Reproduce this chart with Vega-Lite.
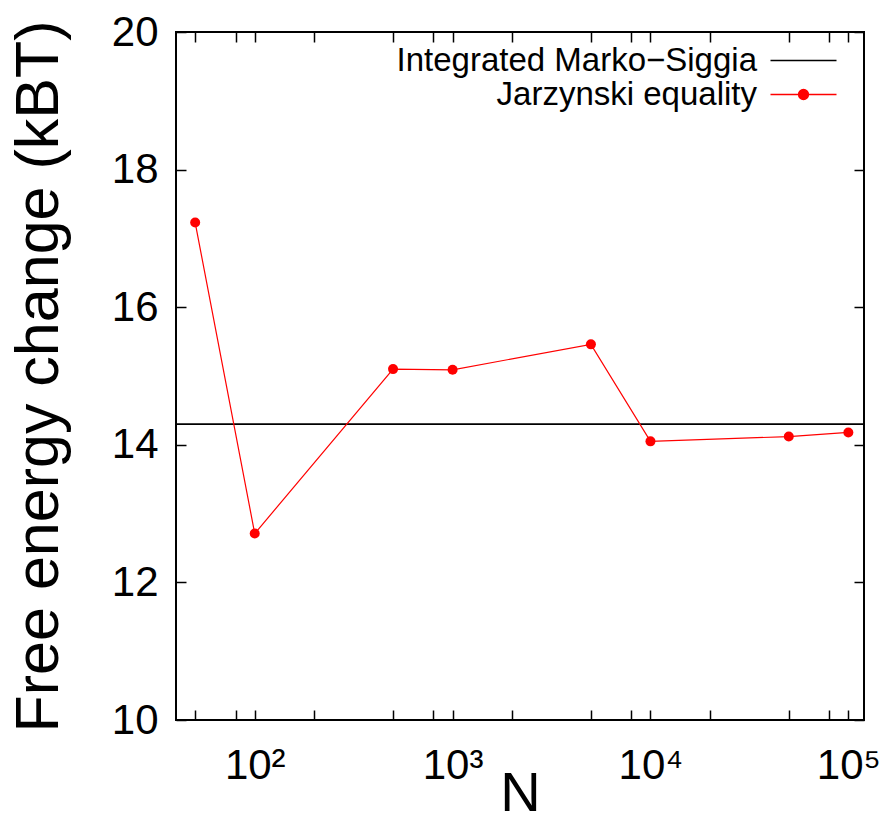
{
  "$schema": "https://vega.github.io/schema/vega-lite/v6.json",
  "autosize": {"type": "none"},
  "padding": {"left": 176, "top": 32, "right": 25, "bottom": 102},
  "width": 688,
  "height": 688,
  "background": "white",
  "config": {
    "view": {"stroke": "black", "strokeWidth": 2},
    "font": "Liberation Sans"
  },
  "datasets": {
    "ms": [{"series": "Integrated Marko−Siggia", "F": 14.30}],
    "jar": [
      {"series": "Jarzynski equality", "N": 50, "F": 17.23},
      {"series": "Jarzynski equality", "N": 100, "F": 12.71},
      {"series": "Jarzynski equality", "N": 500, "F": 15.10},
      {"series": "Jarzynski equality", "N": 1000, "F": 15.09},
      {"series": "Jarzynski equality", "N": 5000, "F": 15.46},
      {"series": "Jarzynski equality", "N": 10000, "F": 14.05},
      {"series": "Jarzynski equality", "N": 50000, "F": 14.12},
      {"series": "Jarzynski equality", "N": 100000, "F": 14.18}
    ]
  },
  "resolve": {"scale": {"x": "shared", "y": "shared", "color": "shared"}, "axis": {"x": "independent", "y": "independent"}},
  "layer": [
    {
      "data": {"name": "ms"},
      "mark": {"type": "rule", "strokeWidth": 1.8},
      "encoding": {
        "y": {"field": "F", "type": "quantitative", "scale": {"domain": [10, 20], "nice": false, "zero": false}, "axis": null},
        "color": {
          "field": "series", "type": "nominal",
          "scale": {"domain": ["Integrated Marko−Siggia", "Jarzynski equality"], "range": ["black", "red"]},
          "legend": {
            "orient": "none", "legendX": 611, "legendY": 12, "title": null, "padding": 0,
            "labelAlign": "right", "labelOffset": -63, "labelFontSize": 33, "labelFont": "Liberation Sans", "labelColor": "black", "labelLimit": 0,
            "symbolSize": 484, "rowPadding": -1,
            "encode": {"symbols": {"update": {
              "shape": {"signal": "datum.value === 'Jarzynski equality' ? 'M-3,0H3M-0.45,0A0.45,0.45,0,1,0,0.45,0A0.45,0.45,0,1,0,-0.45,0Z' : 'M-3,0H3'"},
              "fill": {"signal": "datum.value === 'Jarzynski equality' ? 'red' : 'transparent'"},
              "stroke": {"signal": "datum.value === 'Jarzynski equality' ? 'red' : 'black'"},
              "strokeWidth": {"value": 1.4},
              "opacity": {"value": 1},
              "size": {"value": 484}
            }}}
          }
        }
      }
    },
    {
      "data": {"name": "jar"},
      "mark": {"type": "line", "strokeWidth": 1.2, "point": {"filled": true, "size": 100, "opacity": 1}},
      "encoding": {
        "x": {
          "field": "N", "type": "quantitative",
          "scale": {"type": "log", "domain": [40, 120000], "nice": false},
          "axis": {
            "orient": "bottom", "values": [50, 80, 100, 200, 500, 800, 1000, 2000, 5000, 8000, 10000, 20000, 50000, 80000, 100000],
            "labelExpr": "datum.value == 100 ? '10²' : datum.value == 1000 ? '10³' : datum.value == 10000 ? '10⁴' : datum.value == 100000 ? '10⁵' : ''",
            "tickSize": -10, "tickColor": "black", "tickWidth": 1.5, "domain": false, "grid": false,
            "labelFont": "Liberation Sans", "labelFontSize": 42, "labelColor": "black", "labelPadding": 35, "labelAngle": 0, "labelFlush": false, "labelOverlap": false,
            "title": "N", "titleFont": "Liberation Sans", "titleFontSize": 56, "titleFontWeight": "normal", "titleColor": "black", "titlePadding": -20,
            "encode": {"ticks": {"update": {"y2": {"signal": "indexof([100,1000,10000,100000], datum.value) >= 0 ? -10 : -5"}}}}
          }
        },
        "y": {
          "field": "F", "type": "quantitative",
          "scale": {"domain": [10, 20], "nice": false, "zero": false},
          "axis": {
            "orient": "left", "values": [10, 12, 14, 16, 18, 20],
            "tickSize": -10, "tickColor": "black", "tickWidth": 1.5, "domain": false, "grid": false,
            "labelFont": "Liberation Sans", "labelFontSize": 42, "labelColor": "black", "labelPadding": 28, "labelFlush": false, "labelOverlap": false,
            "title": "Free energy change (kBT)", "titleFont": "Liberation Sans", "titleFontSize": 61, "titleFontWeight": "normal", "titleColor": "black", "titlePadding": 41
          }
        },
        "color": {
          "field": "series", "type": "nominal",
          "scale": {"domain": ["Integrated Marko−Siggia", "Jarzynski equality"], "range": ["black", "red"]},
          "legend": {
            "orient": "none", "legendX": 611, "legendY": 12, "title": null, "padding": 0,
            "labelAlign": "right", "labelOffset": -63, "labelFontSize": 33, "labelFont": "Liberation Sans", "labelColor": "black", "labelLimit": 0,
            "symbolSize": 484, "rowPadding": -1,
            "encode": {"symbols": {"update": {
              "shape": {"signal": "datum.value === 'Jarzynski equality' ? 'M-3,0H3M-0.45,0A0.45,0.45,0,1,0,0.45,0A0.45,0.45,0,1,0,-0.45,0Z' : 'M-3,0H3'"},
              "fill": {"signal": "datum.value === 'Jarzynski equality' ? 'red' : 'transparent'"},
              "stroke": {"signal": "datum.value === 'Jarzynski equality' ? 'red' : 'black'"},
              "strokeWidth": {"value": 1.4},
              "opacity": {"value": 1},
              "size": {"value": 484}
            }}}
          }
        }
      }
    },
    {
      "data": {"name": "jar"},
      "mark": {"type": "point", "opacity": 0},
      "encoding": {
        "x": {
          "field": "N", "type": "quantitative",
          "scale": {"type": "log", "domain": [40, 120000], "nice": false},
          "axis": {
            "orient": "top", "values": [50, 80, 100, 200, 500, 800, 1000, 2000, 5000, 8000, 10000, 20000, 50000, 80000, 100000],
            "labels": false, "title": null, "domain": false, "grid": false,
            "tickSize": -10, "tickColor": "black", "tickWidth": 1.5,
            "encode": {"ticks": {"update": {"y2": {"signal": "indexof([100,1000,10000,100000], datum.value) >= 0 ? 10 : 5"}}}}
          }
        },
        "y": {
          "field": "F", "type": "quantitative",
          "scale": {"domain": [10, 20], "nice": false, "zero": false},
          "axis": {
            "orient": "right", "values": [10, 12, 14, 16, 18, 20],
            "labels": false, "title": null, "domain": false, "grid": false,
            "tickSize": -10, "tickColor": "black", "tickWidth": 1.5
          }
        }
      }
    }
  ]
}
